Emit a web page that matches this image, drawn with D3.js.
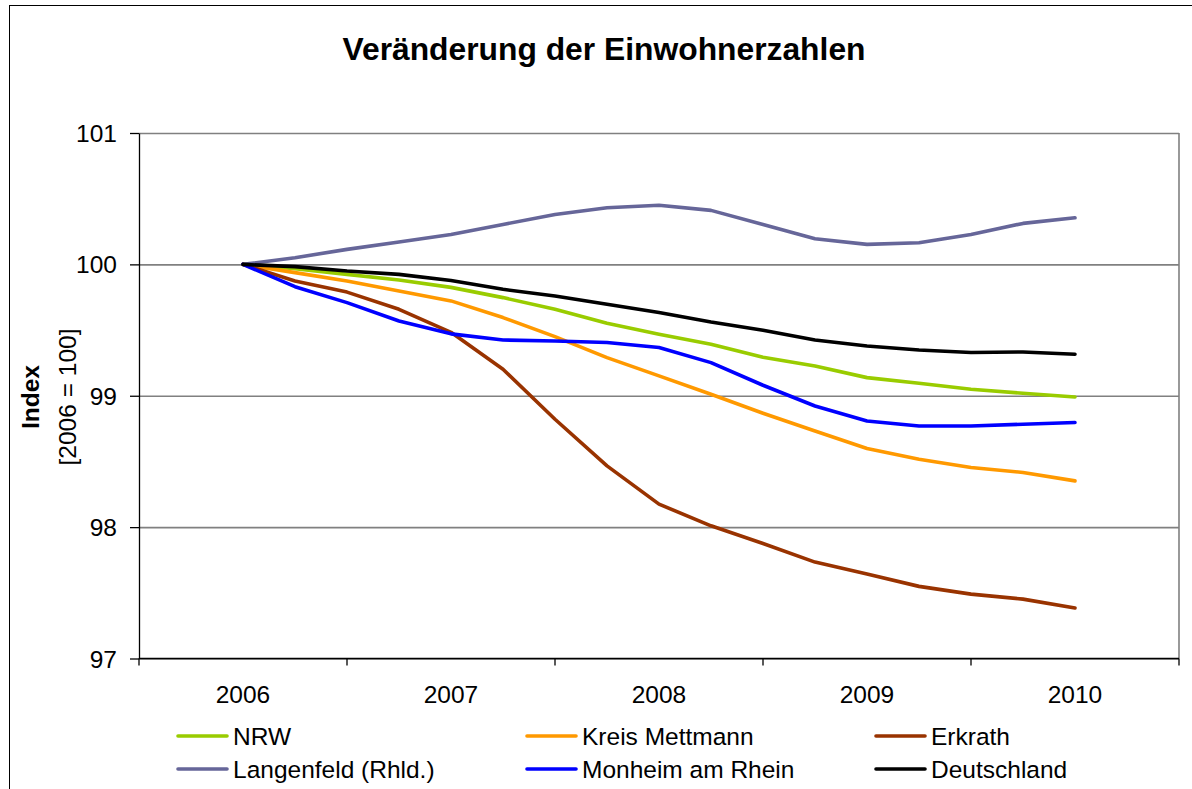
<!DOCTYPE html>
<html>
<head>
<meta charset="utf-8">
<script src="https://cdn.jsdelivr.net/npm/d3@7"></script>
<style>
    body { margin: 0; background: #fff; }
    text { font-family: "Liberation Sans", Arial, sans-serif; fill: #000; }
</style>
</head>
<body>
<div id="chart"></div>
<script>
// quarterly index values, 2006 = 100
var years = ["2006", "2007", "2008", "2009", "2010"];
var periods = [2006, 2006.25, 2006.5, 2006.75, 2007, 2007.25, 2007.5, 2007.75,
               2008, 2008.25, 2008.5, 2008.75, 2009, 2009.25, 2009.5, 2009.75, 2010];
var yTicks = [97, 98, 99, 100, 101];

var nrw         = [100, 99.967, 99.924, 99.881, 99.825, 99.747, 99.658, 99.551, 99.468, 99.392, 99.293, 99.227, 99.138, 99.095, 99.049, 99.019, 98.991];
var mettmann    = [100, 99.937, 99.873, 99.797, 99.722, 99.595, 99.450, 99.290, 99.151, 99.011, 98.867, 98.732, 98.598, 98.517, 98.454, 98.416, 98.352];
var erkrath     = [100, 99.873, 99.789, 99.658, 99.483, 99.202, 98.821, 98.466, 98.175, 98.010, 97.875, 97.734, 97.643, 97.549, 97.490, 97.452, 97.384];
var langenfeld  = [100, 100.051, 100.114, 100.170, 100.228, 100.304, 100.380, 100.431, 100.450, 100.411, 100.304, 100.195, 100.152, 100.165, 100.228, 100.312, 100.355];
var monheim     = [100, 99.830, 99.709, 99.569, 99.471, 99.424, 99.417, 99.405, 99.367, 99.252, 99.080, 98.922, 98.808, 98.770, 98.770, 98.783, 98.796];
var deutschland = [100, 99.983, 99.949, 99.924, 99.877, 99.810, 99.759, 99.696, 99.633, 99.561, 99.498, 99.424, 99.379, 99.348, 99.329, 99.333, 99.316];

var seriesNames  = ["NRW", "Kreis Mettmann", "Erkrath", "Langenfeld (Rhld.)", "Monheim am Rhein", "Deutschland"];
var seriesColors = ["#99cc00", "#ff9900", "#993300", "#666699", "#0000ff", "#000000"];
var seriesValues = [nrw, mettmann, erkrath, langenfeld, monheim, deutschland];

var svgWidth  = 1192;
var svgHeight = 789;

var plot = {left: 139, right: 1179, top: 133, bottom: 658.5};

var fontSize = "24.5px";

var svg = d3.select("#chart").append("svg")
    .attr("width", svgWidth)
    .attr("height", svgHeight)

// outer chart frame
svg.append("rect")
    .attr("x", 9.5)
    .attr("y", 5.5)
    .attr("width", svgWidth + 20)
    .attr("height", svgHeight + 20)
    .attr("fill", "#fff")
    .attr("stroke", "#000")
    .attr("stroke-width", 1)

svg.append("text")
    .attr("x", 604)
    .attr("y", 60)
    .style("text-anchor", "middle")
    .style("font-size", "31.8px")
    .style("font-weight", "bold")
    .text("Veränderung der Einwohnerzahlen")

var x = d3.scaleBand()
    .domain(years)
    .range([plot.left, plot.right]);

var bw = x.bandwidth();

var xq = d3.scaleLinear()
    .domain([+years[0], +years[years.length - 1]])
    .range([x(years[0]) + bw / 2, x(years[years.length - 1]) + bw / 2]);

var y = d3.scaleLinear()
    .domain([97, 101])
    .range([plot.bottom, plot.top]);

// gridlines
svg.append("g")
    .attr("class", "y grid")
    .attr("transform", `translate(${plot.left}, 0)`)
    .call(d3.axisLeft(y).tickValues(yTicks).tickSize(-(plot.right - plot.left)).tickFormat(""))
    .call(g => g.select(".domain").remove())
    .call(g => g.selectAll("line").attr("stroke", "#808080").attr("stroke-width", 1.6))

// right border of plot area
svg.append("line")
    .attr("x1", plot.right)
    .attr("x2", plot.right)
    .attr("y1", plot.top)
    .attr("y2", plot.bottom)
    .attr("stroke", "#808080")
    .attr("stroke-width", 1.6)

// y axis
svg.append("g")
    .attr("class", "y axis")
    .attr("transform", `translate(${plot.left}, 0)`)
    .call(d3.axisLeft(y).tickValues(yTicks).tickSize(9).tickSizeOuter(0).tickPadding(13).tickFormat(d3.format("d")))
    .call(g => g.selectAll("line, path").attr("stroke", "#000").attr("stroke-width", 1.3))
    .call(g => g.selectAll("text").style("font-size", fontSize).attr("dy", "0.35em"))

// x axis, ticks on band edges
var xEdges = years.map(d => x(d)).concat([plot.right]);

var gx = svg.append("g")
    .attr("class", "x axis")

gx.append("line")
    .attr("x1", plot.left)
    .attr("x2", plot.right)
    .attr("y1", plot.bottom)
    .attr("y2", plot.bottom)
    .attr("stroke", "#000")
    .attr("stroke-width", 1.3)

gx.selectAll("line.tick")
    .data(xEdges)
    .enter().append("line")
    .attr("class", "tick")
    .attr("x1", d => d)
    .attr("x2", d => d)
    .attr("y1", plot.bottom)
    .attr("y2", plot.bottom + 7)
    .attr("stroke", "#000")
    .attr("stroke-width", 1.3)

gx.selectAll("text")
    .data(years)
    .enter().append("text")
    .attr("x", d => x(d) + bw / 2)
    .attr("y", 703)
    .style("text-anchor", "middle")
    .style("font-size", fontSize)
    .text(d => d)

// y title
var yTitle = svg.append("g")
    .attr("transform", "translate(0, 397) rotate(-90)")

yTitle.append("text")
    .attr("x", 0)
    .attr("y", 39)
    .style("text-anchor", "middle")
    .style("font-size", fontSize)
    .style("font-weight", "bold")
    .text("Index")

yTitle.append("text")
    .attr("x", 0)
    .attr("y", 76)
    .style("text-anchor", "middle")
    .style("font-size", fontSize)
    .text("[2006 = 100]")

// lines
var line = d3.line()
    .x((d, i) => xq(periods[i]))
    .y(d => y(d));

svg.append("g")
    .attr("class", "lines")
    .selectAll("path")
    .data(seriesValues)
    .enter().append("path")
    .attr("fill", "none")
    .attr("stroke", (d, i) => seriesColors[i])
    .attr("stroke-width", 3.6)
    .attr("stroke-linejoin", "round")
    .attr("stroke-linecap", "round")
    .attr("d", line)

// legend, 3 columns x 2 rows
var legend = svg.append("g")
    .attr("class", "legend")

var legendItem = legend.selectAll("g")
    .data(seriesNames)
    .enter().append("g")
    .attr("transform", (d, i) => `translate(${178 + (i % 3) * 349}, ${736 + Math.floor(i / 3) * 33})`)

legendItem.append("line")
    .attr("x1", 0)
    .attr("x2", 49)
    .attr("stroke", (d, i) => seriesColors[i])
    .attr("stroke-width", 3.6)
    .attr("stroke-linecap", "round")

legendItem.append("text")
    .attr("x", 55)
    .attr("y", 8.5)
    .style("font-size", fontSize)
    .text(d => d)
</script>
</body>
</html>
